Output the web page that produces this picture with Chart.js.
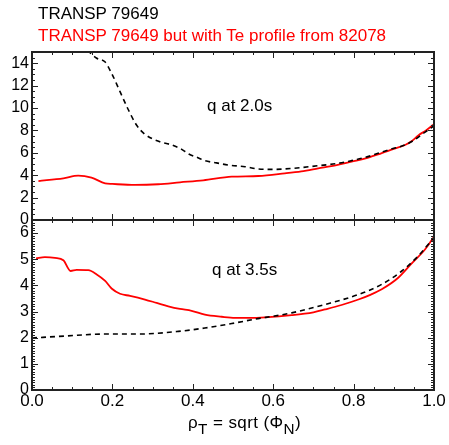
<!DOCTYPE html>
<html>
<head>
<meta charset="utf-8">
<script src="https://cdn.jsdelivr.net/npm/chart.js@4/dist/chart.umd.min.js"></script>
<style>
  body { margin: 0; background: #fff; }
  #wrap { position: relative; width: 449px; height: 445px; overflow: hidden; font-family: "Liberation Sans", Arial, sans-serif; }
  canvas { position: absolute; left: 0; top: 0; }
  .txt { position: absolute; white-space: nowrap; line-height: 1; font-size: 17px; color: #000; }
  .txt sub { font-size: 0.9em; vertical-align: -0.4em; line-height: 0; }
</style>
</head>
<body>
<div id="wrap">
  <canvas id="topPanel" width="449" height="445"></canvas>
  <canvas id="botPanel" width="449" height="445"></canvas>
  <div class="txt" style="left:38px;top:5px;">TRANSP 79649</div>
  <div class="txt" style="left:38px;top:27px;color:#f00;">TRANSP 79649 but with Te profile from 82078</div>
  <div class="txt" style="left:207px;top:97px;">q at 2.0s</div>
  <div class="txt" style="left:212px;top:261px;">q at 3.5s</div>
  <div class="txt" style="left:188px;top:414px;letter-spacing:0.4px;">ρ<sub>T</sub> = sqrt (Φ<sub>N</sub>)</div>
</div>
<script>
// q profile at 2.0s, TRANSP 79649 (black dashed)
const rho20_79649 = [0.02, 0.10, 0.144, 0.161, 0.182, 0.198, 0.219, 0.240, 0.26, 0.281, 0.318, 0.343, 0.368, 0.39, 0.41, 0.43, 0.459, 0.49, 0.53, 0.563, 0.60, 0.646, 0.712, 0.76, 0.795, 0.83, 0.861, 0.90, 0.928, 0.949, 0.978, 1.0];
const q20_79649 = [22, 17, 14.97, 14.44, 14.1, 13.1, 11.46, 9.82, 8.48, 7.65, 6.99, 6.75, 6.4, 5.9, 5.6, 5.3, 5.1, 4.9, 4.76, 4.55, 4.52, 4.6, 4.85, 5.05, 5.3, 5.6, 5.95, 6.4, 6.7, 7.1, 7.85, 8.4];

// q profile at 2.0s, with Te profile from 82078 (red)
const rho20_82078 = [0.016, 0.078, 0.115, 0.148, 0.182, 0.20, 0.256, 0.314, 0.368, 0.426, 0.497, 0.563, 0.629, 0.67, 0.712, 0.758, 0.795, 0.83, 0.861, 0.9, 0.928, 0.945, 0.961, 0.98, 0.998];
const q20_82078 = [3.48, 3.72, 3.96, 3.78, 3.27, 3.22, 3.13, 3.19, 3.36, 3.54, 3.87, 3.93, 4.17, 4.35, 4.61, 4.9, 5.21, 5.5, 5.86, 6.35, 6.7, 7.05, 7.55, 8.0, 8.5];

// q profile at 3.5s, TRANSP 79649 (black dashed)
const rho35_79649 = [0.0, 0.08, 0.18, 0.264, 0.364, 0.43, 0.497, 0.562, 0.60, 0.646, 0.729, 0.812, 0.87, 0.92, 0.961, 1.0];
const q35_79649 = [1.99, 2.06, 2.14, 2.14, 2.24, 2.37, 2.54, 2.73, 2.82, 2.95, 3.27, 3.65, 4.04, 4.55, 5.13, 5.83];

// q profile at 3.5s, with Te profile from 82078 (red)
const rho35_82078 = [0.01, 0.032, 0.057, 0.078, 0.096, 0.111, 0.14, 0.161, 0.182, 0.198, 0.219, 0.244, 0.281, 0.31, 0.339, 0.368, 0.397, 0.43, 0.472, 0.505, 0.54, 0.58, 0.646, 0.70, 0.729, 0.77, 0.812, 0.84, 0.87, 0.911, 0.944, 0.978, 1.0];
const q35_82078 = [5.03, 5.08, 5.05, 4.96, 4.55, 4.59, 4.58, 4.42, 4.17, 3.88, 3.68, 3.60, 3.46, 3.33, 3.2, 3.1, 3.03, 2.88, 2.8, 2.76, 2.76, 2.78, 2.86, 2.97, 3.08, 3.25, 3.46, 3.63, 3.85, 4.29, 4.83, 5.38, 5.86];

const xTicks = [0.0, 0.2, 0.4, 0.6, 0.8, 1.0];
const yTicksTop = [0, 2, 4, 6, 8, 10, 12, 14];
const yTicksBot = [0, 1, 2, 3, 4, 5, 6];

Chart.defaults.font.family = '"Liberation Sans", Arial, sans-serif';
Chart.defaults.color = '#000';

const pts = (xs, ys) => xs.map((x, i) => ({ x: x, y: ys[i] }));

// IDL style box with inward ticks on all four sides
const boxTicks = {
    id: 'boxTicks',
    afterDatasetsDraw(chart, args, opts) {
        const { ctx, chartArea: a } = chart;
        const sx = chart.scales.x, sy = chart.scales.y;
        ctx.save();
        ctx.strokeStyle = '#222';
        ctx.lineWidth = 1;
        ctx.beginPath();
        const nx = Math.round((sx.max - sx.min) / opts.xMinor);
        for (let i = 0; i <= nx; i++) {
            const v = sx.min + i * opts.xMinor;
            const px = Math.round(sx.getPixelForValue(v)) + 0.5;
            const len = (i % opts.xEvery === 0) ? 6 : 3;
            ctx.moveTo(px, a.top); ctx.lineTo(px, a.top + len);
            ctx.moveTo(px, a.bottom); ctx.lineTo(px, a.bottom - len);
        }
        const ny = Math.floor((sy.max - sy.min) / opts.yMinor + 1e-6);
        for (let i = 0; i <= ny; i++) {
            const v = sy.min + i * opts.yMinor;
            const py = Math.round(sy.getPixelForValue(v)) + 0.5;
            const len = (i % opts.yEvery === 0) ? 6 : 3;
            ctx.moveTo(a.left, py); ctx.lineTo(a.left + len, py);
            ctx.moveTo(a.right, py); ctx.lineTo(a.right - len, py);
        }
        ctx.stroke();
        ctx.lineWidth = 2;
        ctx.strokeRect(a.left, a.top, a.right - a.left, a.bottom - a.top);
        ctx.restore();
    }
};

const lineStyle = {
    black: { borderColor: '#000', borderWidth: 1.6, borderDash: [5, 4], pointRadius: 0, cubicInterpolationMode: 'monotone' },
    red: { borderColor: '#ff0000', borderWidth: 1.8, pointRadius: 0, cubicInterpolationMode: 'monotone' }
};

function yScale(max, ticks) {
    return {
        type: 'linear', min: 0, max: max,
        afterFit(s) { s.width = 32; },
        afterBuildTicks(s) { s.ticks = ticks.map(v => ({ value: v })); },
        grid: { display: false, drawTicks: false },
        border: { display: false },
        ticks: { padding: 3, font: { size: 16 }, color: '#000' }
    };
}

new Chart(document.getElementById('topPanel'), {
    type: 'line',
    data: {
        datasets: [
            Object.assign({ data: pts(rho20_79649, q20_79649) }, lineStyle.black),
            Object.assign({ data: pts(rho20_82078, q20_82078) }, lineStyle.red)
        ]
    },
    options: {
        responsive: false,
        animation: false,
        events: [],
        layout: { padding: { left: 0, right: 15, top: 52, bottom: 225 } },
        plugins: {
            legend: { display: false },
            tooltip: { enabled: false },
            boxTicks: { xMinor: 0.05, xEvery: 4, yMinor: 0.5, yEvery: 4 }
        },
        scales: {
            x: { type: 'linear', min: 0, max: 1, display: false },
            y: yScale(15, yTicksTop)
        }
    },
    plugins: [boxTicks]
});

new Chart(document.getElementById('botPanel'), {
    type: 'line',
    data: {
        datasets: [
            Object.assign({ data: pts(rho35_79649, q35_79649) }, lineStyle.black),
            Object.assign({ data: pts(rho35_82078, q35_82078) }, lineStyle.red)
        ]
    },
    options: {
        responsive: false,
        animation: false,
        events: [],
        layout: { padding: { left: 0, right: 15, top: 220, bottom: 0 } },
        plugins: {
            legend: { display: false },
            tooltip: { enabled: false },
            boxTicks: { xMinor: 0.05, xEvery: 4, yMinor: 0.1, yEvery: 10 }
        },
        scales: {
            x: {
                type: 'linear', min: 0, max: 1,
                afterFit(s) { s.height = 55; },
                afterBuildTicks(s) { s.ticks = xTicks.map(v => ({ value: v })); },
                grid: { display: false, drawTicks: false },
                border: { display: false },
                ticks: { padding: 1, maxRotation: 0, font: { size: 17 }, color: '#000', callback: v => v.toFixed(1) }
            },
            y: yScale(6.5, yTicksBot)
        }
    },
    plugins: [boxTicks]
});
</script>
</body>
</html>
